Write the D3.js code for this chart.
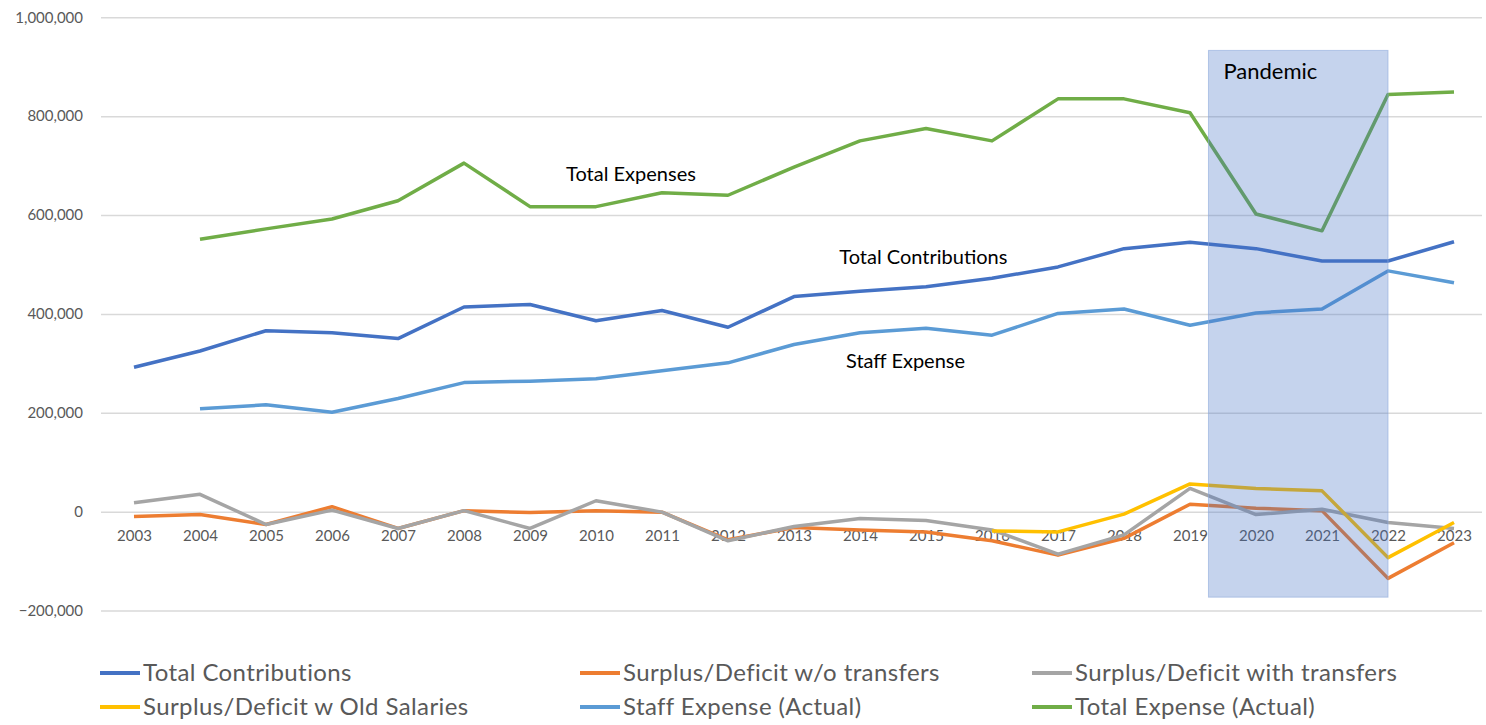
<!DOCTYPE html>
<meta charset="utf-8" />
<script src="https://d3js.org/d3.v7.min.js"></script>
<style>
  body { margin: 0; background: #fff; }
  text { font-family: Lato, "Noto Sans", sans-serif; }
</style>
<div id="my_dataviz"></div>
<script>
  // data
  const years = d3.range(2003, 2024);
  const totalContributions = [292000, 325000, 366000, 362000, 350000, 414000, 419000, 386000, 407000, 373000, 435000, 446000, 455000, 472000, 495000, 532000, 545000, 532000, 507000, 507000, 546000];
  const surplusNoTransfers = [-10000, -6000, -26000, 10000, -34000, 2000, -2000, 2000, -1000, -57000, -32000, -37000, -41000, -59000, -88000, -54000, 15000, 7000, 2000, -135000, -63000];
  const surplusWithTransfers = [18000, 35000, -26000, 3000, -34000, 2000, -34000, 22000, -1000, -59000, -30000, -14000, -18000, -37000, -86000, -47000, 47000, -6000, 5000, -22000, -34000];
  const surplusOldSalaries = [null, null, null, null, null, null, null, null, null, null, null, null, null, -39000, -41000, -5000, 56000, 47000, 42000, -93000, -22000];
  const staffExpense = [null, 208000, 216000, 201000, 229000, 261000, 264000, 269000, 285000, 301000, 338000, 362000, 371000, 357000, 401000, 410000, 377000, 402000, 410000, 487000, 463000];
  const totalExpense = [null, 551000, 572000, 592000, 629000, 705000, 617000, 617000, 645000, 640000, 697000, 750000, 775000, 750000, 835000, 835000, 807000, 602000, 568000, 844000, 849000];

  const seriesNames = ["Total Contributions", "Surplus/Deficit w/o transfers", "Surplus/Deficit with transfers", "Surplus/Deficit w Old Salaries", "Staff Expense (Actual)", "Total Expense (Actual)"];
  const seriesValues = [totalContributions, surplusNoTransfers, surplusWithTransfers, surplusOldSalaries, staffExpense, totalExpense];
  const colors = ["#4472C4", "#ED7D31", "#A5A5A5", "#FFC000", "#5B9BD5", "#70AD47"];

  const yTicks = [-200000, 0, 200000, 400000, 600000, 800000, 1000000];

  // shaded period and labels (year, value)
  const pandemic = { from: 2019.28, to: 2022, top: 933000, bottom: -173000, label: "Pandemic" };
  const notes = [
    { text: "Total Expenses", year: 2010.53, value: 668000 },
    { text: "Total Contributions", year: 2014.96, value: 500000 },
    { text: "Staff Expense", year: 2014.69, value: 290000 }
  ];

  const width = 1486, height = 725;
  const svg = d3.select("#my_dataviz").append("svg")
    .attr("width", width).attr("height", height);

  const x = d3.scalePoint().domain(years).range([101, 1487]).padding(0.5);
  const xLin = d3.scaleLinear().domain([2003, 2023]).range([x(2003), x(2023)]);
  const y = d3.scaleLinear().domain([-200000, 1000000]).range([610.5, 17.3]);

  // gridlines + y labels
  const yAxis = svg.append("g").attr("transform", "translate(101,0)")
    .call(d3.axisLeft(y).tickValues(yTicks).tickSizeInner(-1381).tickSizeOuter(0).tickPadding(18).tickFormat(d3.format(",")));
  yAxis.select(".domain").remove();
  yAxis.selectAll(".tick line").attr("stroke", "#d9d9d9").attr("stroke-width", 1.5);
  yAxis.selectAll(".tick text").attr("fill", "#595959").style("font-size", "15px");

  // x labels sit under the zero line
  const xAxis = svg.append("g").attr("transform", `translate(0,${y(0)})`)
    .call(d3.axisBottom(x).tickSize(0).tickPadding(19));
  xAxis.select(".domain").remove();
  xAxis.selectAll(".tick text").attr("fill", "#595959").style("font-size", "15px");

  // lines
  const line = d3.line()
    .defined((d) => d.v != null)
    .x((d) => x(d.year))
    .y((d) => y(d.v));

  seriesValues.forEach(function (vals, i) {
    svg.append("path")
      .datum(years.map((yr, j) => ({ year: yr, v: vals[j] })))
      .attr("fill", "none")
      .attr("stroke", colors[i])
      .attr("stroke-width", 3.5)
      .attr("stroke-linejoin", "round")
      .attr("d", line);
  });

  // pandemic box on top
  svg.append("rect")
    .attr("x", xLin(pandemic.from))
    .attr("y", y(pandemic.top))
    .attr("width", xLin(pandemic.to) - xLin(pandemic.from))
    .attr("height", y(pandemic.bottom) - y(pandemic.top))
    .attr("fill", "#4472C4")
    .attr("fill-opacity", 0.31)
    .attr("stroke", "#8faadc")
    .attr("stroke-opacity", 0.6);

  svg.append("text")
    .attr("x", xLin(pandemic.from) + 15)
    .attr("y", y(pandemic.top) + 29)
    .attr("fill", "#000")
    .style("font-size", "22px")
    .text(pandemic.label);

  svg.selectAll(".note")
    .data(notes)
    .join("text")
    .attr("class", "note")
    .attr("x", (d) => xLin(d.year))
    .attr("y", (d) => y(d.value))
    .attr("text-anchor", "middle")
    .attr("fill", "#000")
    .style("font-size", "20px")
    .text((d) => d.text);

  // legend, 3 columns x 2 rows
  const legend = svg.append("g");
  const colX = [100, 580, 1032], rowY = [673, 707];
  seriesNames.forEach(function (name, i) {
    const gx = colX[i % 3], gy = rowY[Math.floor(i / 3)];
    legend.append("line")
      .attr("x1", gx).attr("x2", gx + 40)
      .attr("y1", gy).attr("y2", gy)
      .attr("stroke", colors[i]).attr("stroke-width", 4);
    legend.append("text")
      .attr("x", gx + 43).attr("y", gy)
      .attr("dy", "0.35em")
      .attr("fill", "#595959")
      .style("font-size", "24px")
      .style("letter-spacing", "0.4px")
      .text(name);
  });
</script>
